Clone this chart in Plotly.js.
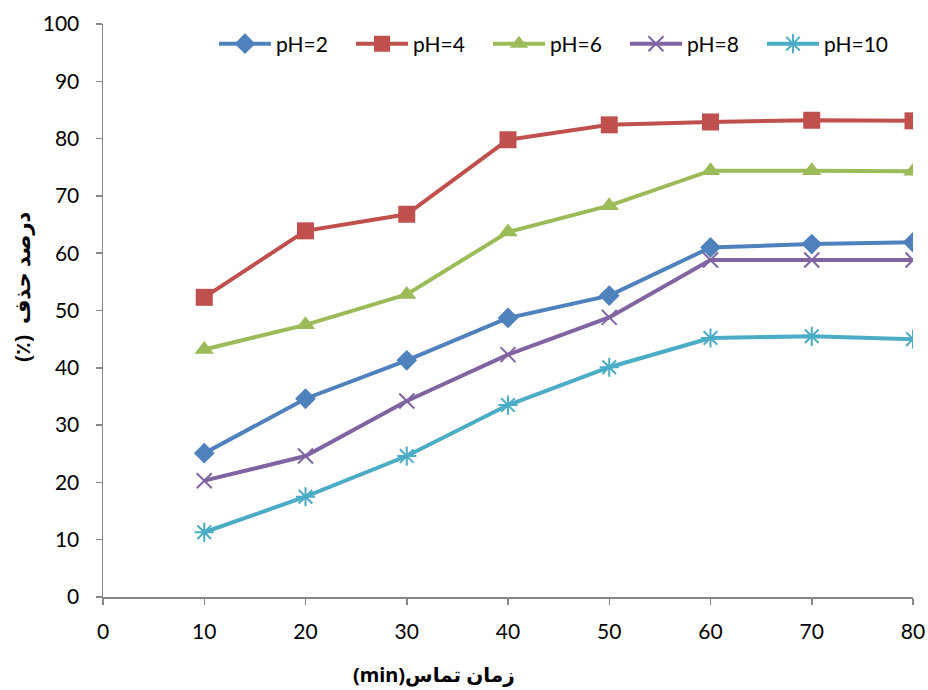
<!DOCTYPE html>
<html>
<head>
<meta charset="utf-8">
<script src="https://cdn.plot.ly/plotly-3.0.1.min.js"></script>
<style>body{margin:0;background:#fff}</style>
</head>
<body>
<div id="chart" style="width:928px;height:690px"></div>
<script>
const contactTime = [10, 20, 30, 40, 50, 60, 70, 80];
const seriesNames = ["pH=2", "pH=4", "pH=6", "pH=8", "pH=10"];
const ph2 = [25.1, 34.6, 41.3, 48.7, 52.6, 61.0, 61.6, 61.9];
const ph4 = [52.3, 63.9, 66.8, 79.8, 82.4, 82.9, 83.2, 83.1];
const ph6 = [43.2, 47.5, 52.8, 63.7, 68.3, 74.4, 74.4, 74.3];
const ph8 = [20.3, 24.6, 34.2, 42.3, 48.8, 58.8, 58.8, 58.8];
const ph10 = [11.3, 17.5, 24.6, 33.5, 40.1, 45.2, 45.5, 45.0];
const xTicks = [0, 10, 20, 30, 40, 50, 60, 70, 80];
const yTicks = [0, 10, 20, 30, 40, 50, 60, 70, 80, 90, 100];

const colors = ["#4F81BD", "#C0504D", "#9BBB59", "#8064A2", "#4BACC6"];
const symbols = ["diamond", "square", "triangle-up", "x-thin-open", "asterisk-open"];
const sizes = [16, 17, 17, 15, 16];
const allY = [ph2, ph4, ph6, ph8, ph10];

const traces = allY.map((ys, i) => ({
  x: contactTime,
  y: ys,
  name: seriesNames[i],
  type: "scatter",
  mode: "lines+markers",
  line: {color: colors[i], width: 4},
  marker: {
    symbol: symbols[i], size: sizes[i], color: colors[i],
    line: {color: colors[i], width: (i >= 3 ? 2 : 0)}
  }
}));

const font = "Lato, 'Noto Sans', 'DejaVu Sans', sans-serif";
const layout = {
  width: 928, height: 690,
  margin: {l: 103, r: 15, t: 24, b: 93},
  paper_bgcolor: "#fff", plot_bgcolor: "#fff",
  font: {family: font, size: 21, color: "#000"},
  showlegend: true,
  legend: {
    orientation: "h", x: 0.137, xanchor: "left", y: 0.965, yanchor: "middle",
    font: {family: font, size: 21, color: "#000"},
    bgcolor: "rgba(0,0,0,0)", itemwidth: 52, tracegroupgap: 0,
    entrywidth: 70, entrywidthmode: "pixels"
  },
  xaxis: {
    range: [0, 80], tickvals: xTicks, ticktext: xTicks.map(String),
    showgrid: false, zeroline: false, showline: true, linecolor: "#878787", linewidth: 1.5,
    ticks: "outside", ticklen: 6, tickcolor: "#878787", tickwidth: 1.5, ticklabelstandoff: 9,
    tickfont: {family: font, size: 21, color: "#000"}, fixedrange: true
  },
  yaxis: {
    range: [0, 100], tickvals: yTicks, ticktext: yTicks.map(String),
    showgrid: false, zeroline: false, showline: true, linecolor: "#878787", linewidth: 1.5,
    ticks: "outside", ticklen: 6, tickcolor: "#878787", tickwidth: 1.5, ticklabelstandoff: 12,
    tickfont: {family: font, size: 21, color: "#000"}, fixedrange: true
  },
  annotations: [
    {text: "<b>(min)زمان تماس</b>", xref: "paper", yref: "paper", x: 0.409, y: -0.135,
     xanchor: "center", yanchor: "middle", showarrow: false,
     font: {family: "'Noto Sans', 'DejaVu Sans', sans-serif", size: 20, color: "#000"}},
    {text: "<b>(٪)\u00A0\u00A0درصد حذف</b>", xref: "paper", yref: "paper", x: -0.1, y: 0.541,
     xanchor: "center", yanchor: "middle", textangle: -90, showarrow: false,
     font: {family: "'Noto Sans', 'DejaVu Sans', sans-serif", size: 21, color: "#000"}}
  ]
};

Plotly.newPlot("chart", traces, layout, {displayModeBar: false, staticPlot: true});
</script>
</body>
</html>
